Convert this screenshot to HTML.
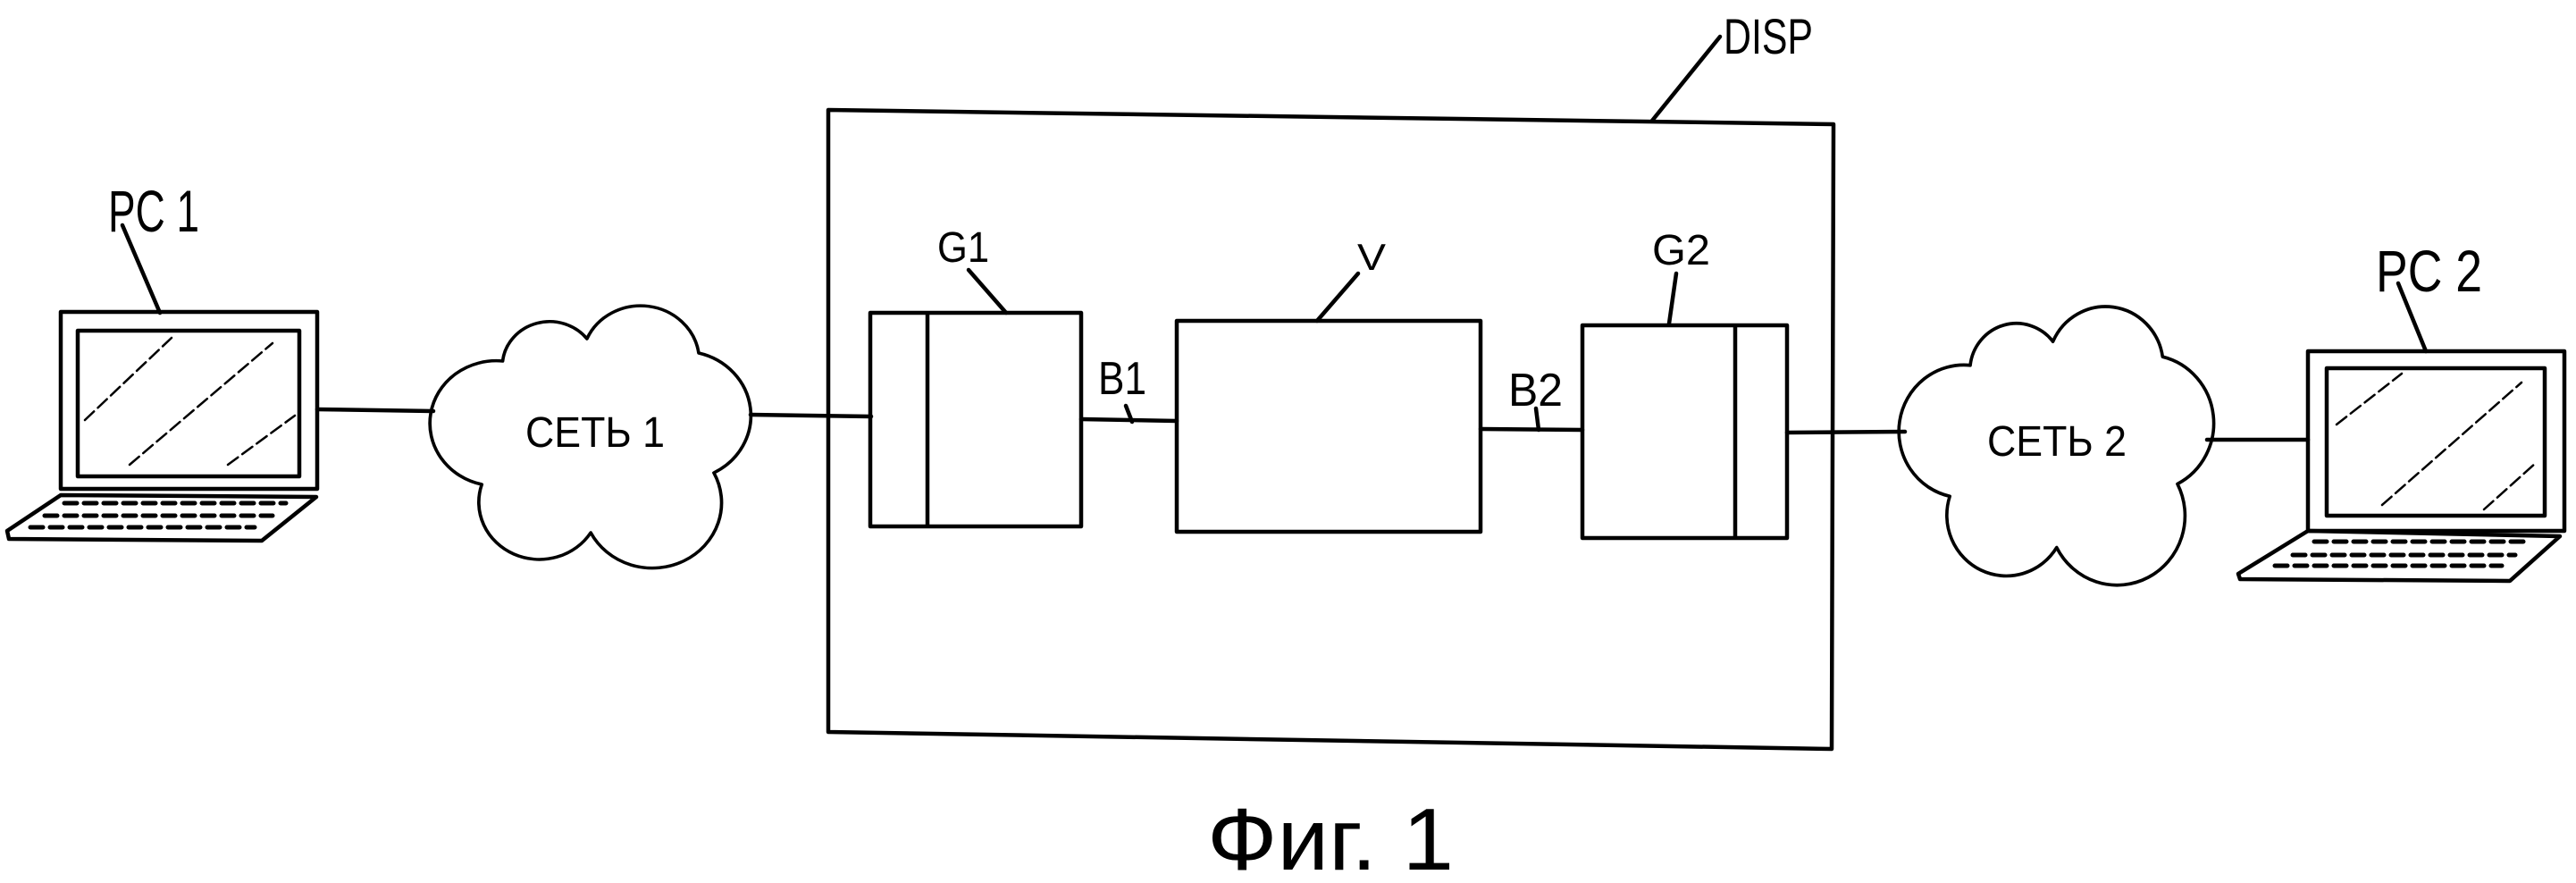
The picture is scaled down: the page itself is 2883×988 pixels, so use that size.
<!DOCTYPE html>
<html><head><meta charset="utf-8"><style>html,body{margin:0;padding:0;background:#fff}svg{display:block}</style></head>
<body>
<svg width="2883" height="988" viewBox="0 0 2883 988" xmlns="http://www.w3.org/2000/svg">
<defs>
<path id="cloud" d="M76,60 A50,50 0 0 1 165,35 A62,62 0 0 1 283,51 A72,72 0 0 1 299,185 A70,70 0 0 1 169,252 A64,64 0 0 1 54,198 A70,70 0 0 1 76,60 Z"/>
</defs>
<g fill="none" stroke="#000" stroke-width="4.5" stroke-linejoin="round" stroke-linecap="round">
<!-- Laptop 1 -->
<rect x="68" y="349" width="287" height="198"/>
<rect x="87" y="370" width="248" height="163"/>
<polygon points="68,554 8,594 10,603 293,605 354,556"/>
<g stroke-width="2.5" stroke-dasharray="14,6">
<line x1="95" y1="470" x2="192" y2="378"/>
<line x1="145" y1="520" x2="305" y2="384"/>
<line x1="255" y1="520" x2="330" y2="465"/>
</g>
<g stroke-width="5" stroke-dasharray="14,8">
<line x1="72" y1="563" x2="320" y2="563"/>
<line x1="50" y1="577" x2="305" y2="577"/>
<line x1="34" y1="590" x2="285" y2="590"/>
</g>
<line x1="137" y1="252" x2="179" y2="350"/>
<!-- connectors -->
<line x1="355" y1="458" x2="485" y2="460"/>
<line x1="840" y1="464" x2="975" y2="466"/>
<!-- Cloud 1 -->
<use href="#cloud" transform="translate(482,344) scale(1.06,1.0)" stroke-width="3.5"/>
<!-- DISP -->
<polygon points="927,123 2052,139 2050,838 927,819"/>
<line x1="1925" y1="41" x2="1849" y2="135"/>
<!-- G1 -->
<rect x="974" y="350" width="236" height="239"/>
<line x1="1038" y1="352" x2="1038" y2="587"/>
<line x1="1084" y1="302" x2="1126" y2="350"/>
<line x1="1210" y1="469" x2="1317" y2="471"/>
<line x1="1260" y1="454" x2="1267" y2="472"/>
<!-- V -->
<rect x="1317" y="359" width="340" height="236"/>
<line x1="1520" y1="306" x2="1474" y2="359"/>
<line x1="1657" y1="480" x2="1771" y2="481"/>
<line x1="1719" y1="457" x2="1722" y2="481"/>
<!-- G2 -->
<rect x="1771" y="364" width="229" height="238"/>
<line x1="1942" y1="366" x2="1942" y2="600"/>
<line x1="1876" y1="306" x2="1868" y2="362"/>
<line x1="2000" y1="484" x2="2132" y2="483"/>
<!-- Cloud 2 -->
<use href="#cloud" transform="translate(2126,345) scale(1.04,1.062)" stroke-width="3.5"/>
<line x1="2470" y1="492" x2="2583" y2="492"/>
<!-- Laptop 2 -->
<rect x="2583" y="393" width="287" height="201"/>
<rect x="2604" y="412" width="244" height="165"/>
<polygon points="2583,594 2505,642 2507,648 2809,650 2865,600"/>
<g stroke-width="2.5" stroke-dasharray="14,6">
<line x1="2615" y1="475" x2="2688" y2="418"/>
<line x1="2666" y1="565" x2="2822" y2="428"/>
<line x1="2780" y1="570" x2="2838" y2="518"/>
</g>
<g stroke-width="5" stroke-dasharray="14,8">
<line x1="2590" y1="606" x2="2830" y2="606"/>
<line x1="2566" y1="621" x2="2815" y2="621"/>
<line x1="2546" y1="633" x2="2800" y2="633"/>
</g>
<line x1="2684" y1="317" x2="2715" y2="393"/>
</g>
<g font-family="'Liberation Sans','DejaVu Sans',sans-serif" fill="#000">
<text x="121" y="259" font-size="66" textLength="102" lengthAdjust="spacingAndGlyphs">PC 1</text>
<text x="2659" y="326" font-size="66" textLength="119" lengthAdjust="spacingAndGlyphs">PC 2</text>
<text x="1929" y="60" font-size="56" textLength="100" lengthAdjust="spacingAndGlyphs">DISP</text>
<text x="1049" y="293" font-size="48" textLength="58" lengthAdjust="spacingAndGlyphs">G1</text>
<text x="1849" y="296" font-size="48" textLength="65" lengthAdjust="spacingAndGlyphs">G2</text>
<text x="1519" y="302" font-size="42" textLength="32" lengthAdjust="spacingAndGlyphs">V</text>
<text x="1229" y="441" font-size="52" textLength="54" lengthAdjust="spacingAndGlyphs">B1</text>
<text x="1688" y="454" font-size="52" textLength="61" lengthAdjust="spacingAndGlyphs">B2</text>
<text x="588" y="500" font-size="48" textLength="156" lengthAdjust="spacingAndGlyphs">СЕТЬ 1</text>
<text x="2224" y="510" font-size="48" textLength="156" lengthAdjust="spacingAndGlyphs">СЕТЬ 2</text>
<text x="1351" y="973" font-size="98" textLength="276" lengthAdjust="spacingAndGlyphs">Фиг. 1</text>
</g>
</svg>
</body></html>
